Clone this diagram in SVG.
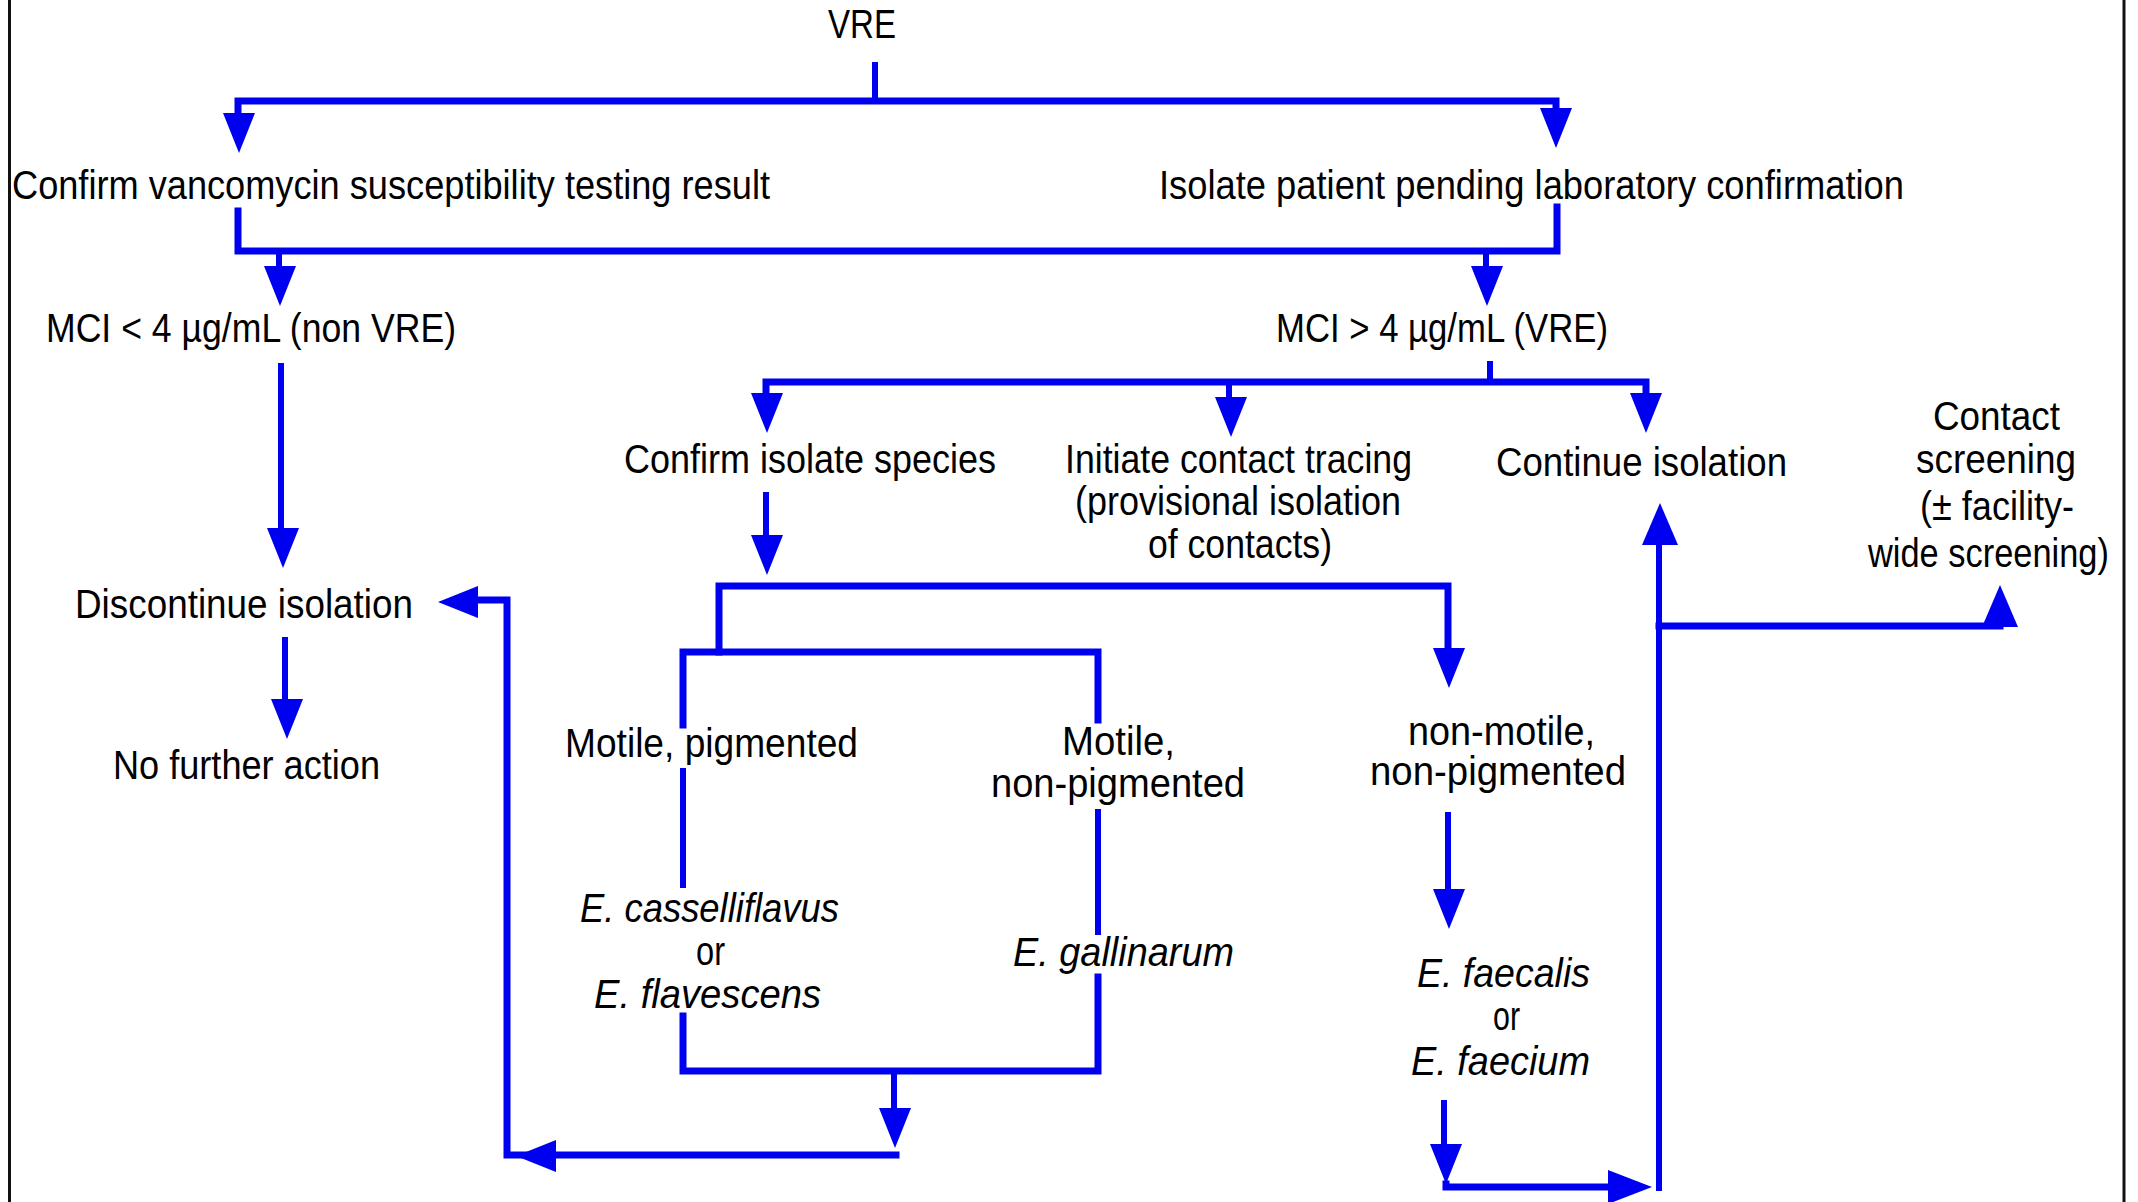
<svg xmlns="http://www.w3.org/2000/svg" xmlns:xlink="http://www.w3.org/1999/xlink" width="2138" height="1202" viewBox="0 0 2138 1202">
<style>
  text { font-family: "Liberation Sans", Arial, sans-serif; font-size: 40px; fill: #000; }
  .it { font-style: italic; }
  .ln { stroke: #0000f0; stroke-width: 7; fill: none; stroke-linecap: square; }
  .vl { stroke: #0000f0; stroke-width: 6; fill: none; stroke-linecap: butt; }
  .ah { fill: #0000f0; }
  .bd { stroke: #111; stroke-width: 3; }
</style>
<defs>
  <path id="ad" d="M-16,0 L16,0 L0,40 Z"/>
  <path id="au" d="M-18,0 L18,0 L0,-42 Z"/>
  <path id="al" d="M0,-16 L0,16 L-40,0 Z"/>
  <path id="ar" d="M0,-17 L0,17 L44,0 Z"/>
</defs>
<rect width="2138" height="1202" fill="#fff"/>
<line class="bd" x1="9.5" y1="0" x2="9.5" y2="1202"/>
<line class="bd" x1="2124" y1="0" x2="2124" y2="1202"/>

<g id="connectors">
  <line class="vl" x1="875" y1="62" x2="875" y2="101"/>
  <polyline class="ln" points="238,115 238,101 1556,101 1556,110"/>
  <use xlink:href="#ad" class="ah" x="239" y="113"/>
  <use xlink:href="#ad" class="ah" x="1556" y="108"/>

  <polyline class="ln" points="238,211 238,251 1557,251 1557,207"/>
  <line class="vl" x1="279" y1="251" x2="279" y2="268"/>
  <use xlink:href="#ad" class="ah" x="280" y="266"/>
  <line class="vl" x1="1486" y1="251" x2="1486" y2="268"/>
  <use xlink:href="#ad" class="ah" x="1487" y="266"/>

  <line class="vl" x1="281" y1="363" x2="281" y2="530"/>
  <use xlink:href="#ad" class="ah" x="283" y="528"/>
  <line class="vl" x1="285" y1="637" x2="285" y2="701"/>
  <use xlink:href="#ad" class="ah" x="287" y="699"/>

  <line class="vl" x1="1490" y1="361" x2="1490" y2="382"/>
  <polyline class="ln" points="766,395 766,382 1646,382 1646,395"/>
  <line class="vl" x1="1229" y1="382" x2="1229" y2="399"/>
  <use xlink:href="#ad" class="ah" x="767" y="393"/>
  <use xlink:href="#ad" class="ah" x="1231" y="397"/>
  <use xlink:href="#ad" class="ah" x="1646" y="393"/>

  <line class="vl" x1="766" y1="492" x2="766" y2="537"/>
  <use xlink:href="#ad" class="ah" x="767" y="535"/>

  <polyline class="ln" points="719,652 719,586 1448,586 1448,650"/>
  <use xlink:href="#ad" class="ah" x="1449" y="648"/>
  <polyline class="ln" points="683,725 683,652 1098,652 1098,720"/>
  <line class="vl" x1="683" y1="768" x2="683" y2="888"/>
  <line class="vl" x1="1098" y1="809" x2="1098" y2="935"/>
  <polyline class="ln" points="683,1016 683,1071 1098,1071 1098,977"/>
  <line class="vl" x1="894" y1="1071" x2="894" y2="1110"/>
  <use xlink:href="#ad" class="ah" x="895" y="1108"/>

  <polyline class="ln" points="896,1155 507,1155 507,600 478,600"/>
  <use xlink:href="#al" class="ah" x="556" y="1156"/>
  <use xlink:href="#al" class="ah" x="478" y="602"/>

  <line class="vl" x1="1448" y1="812" x2="1448" y2="891"/>
  <use xlink:href="#ad" class="ah" x="1449" y="889"/>
  <line class="vl" x1="1444" y1="1100" x2="1444" y2="1146"/>
  <use xlink:href="#ad" class="ah" x="1446" y="1144"/>
  <polyline class="ln" points="1446,1184 1446,1187 1610,1187"/>
  <use xlink:href="#ar" class="ah" x="1608" y="1187"/>

  <line class="vl" x1="1659" y1="1191" x2="1659" y2="543"/>
  <use xlink:href="#au" class="ah" x="1660" y="545"/>
  <polyline class="ln" points="1659,626 2000,626 2000,625"/>
  <use xlink:href="#au" class="ah" x="2000" y="627"/>
</g>

<g id="n-vre"><text x="828" y="38" textLength="68" lengthAdjust="spacingAndGlyphs">VRE</text></g>
<g id="n-confirm-vanco"><text x="12" y="199" textLength="758" lengthAdjust="spacingAndGlyphs">Confirm vancomycin susceptibility testing result</text></g>
<g id="n-isolate-patient"><text x="1159" y="199" textLength="745" lengthAdjust="spacingAndGlyphs">Isolate patient pending laboratory confirmation</text></g>
<g id="n-mci-low"><text x="46" y="342" textLength="410" lengthAdjust="spacingAndGlyphs">MCI &lt; 4 µg/mL (non VRE)</text></g>
<g id="n-mci-high"><text x="1276" y="342" textLength="332" lengthAdjust="spacingAndGlyphs">MCI &gt; 4 µg/mL (VRE)</text></g>
<g id="n-discontinue"><text x="75" y="618" textLength="338" lengthAdjust="spacingAndGlyphs">Discontinue isolation</text></g>
<g id="n-no-further"><text x="113" y="779" textLength="267" lengthAdjust="spacingAndGlyphs">No further action</text></g>
<g id="n-confirm-species"><text x="624" y="473" textLength="372" lengthAdjust="spacingAndGlyphs">Confirm isolate species</text></g>
<g id="n-contact-tracing">
  <text x="1065" y="473" textLength="347" lengthAdjust="spacingAndGlyphs">Initiate contact tracing</text>
  <text x="1075" y="515" textLength="326" lengthAdjust="spacingAndGlyphs">(provisional isolation</text>
  <text x="1148" y="558" textLength="184" lengthAdjust="spacingAndGlyphs">of contacts)</text>
</g>
<g id="n-continue"><text x="1496" y="476" textLength="291" lengthAdjust="spacingAndGlyphs">Continue isolation</text></g>
<g id="n-screening">
  <text x="1933" y="430" textLength="127" lengthAdjust="spacingAndGlyphs">Contact</text>
  <text x="1916" y="473" textLength="160" lengthAdjust="spacingAndGlyphs">screening</text>
  <text x="1920" y="520" textLength="154" lengthAdjust="spacingAndGlyphs">(± facility-</text>
  <text transform="translate(1868,567) scale(0.86,1)" x="0" y="0">wide screening)</text>
</g>
<g id="n-motile-pig"><text x="565" y="757" textLength="293" lengthAdjust="spacingAndGlyphs">Motile, pigmented</text></g>
<g id="n-motile-nonpig">
  <text x="1062" y="755" textLength="113" lengthAdjust="spacingAndGlyphs">Motile,</text>
  <text x="991" y="797" textLength="254" lengthAdjust="spacingAndGlyphs">non-pigmented</text>
</g>
<g id="n-nonmotile">
  <text x="1408" y="745" textLength="187" lengthAdjust="spacingAndGlyphs">non-motile,</text>
  <text x="1370" y="785" textLength="256" lengthAdjust="spacingAndGlyphs">non-pigmented</text>
</g>
<g id="n-cassel">
  <text class="it" x="580" y="922" textLength="259" lengthAdjust="spacingAndGlyphs">E. casselliflavus</text>
  <text x="696" y="965" textLength="29" lengthAdjust="spacingAndGlyphs">or</text>
  <text class="it" x="594" y="1008" textLength="227" lengthAdjust="spacingAndGlyphs">E. flavescens</text>
</g>
<g id="n-gallinarum"><text class="it" x="1013" y="966" textLength="221" lengthAdjust="spacingAndGlyphs">E. gallinarum</text></g>
<g id="n-faecalis">
  <text class="it" x="1417" y="987" textLength="173" lengthAdjust="spacingAndGlyphs">E. faecalis</text>
  <text x="1493" y="1030" textLength="27" lengthAdjust="spacingAndGlyphs">or</text>
  <text class="it" x="1411" y="1075" textLength="179" lengthAdjust="spacingAndGlyphs">E. faecium</text>
</g>
</svg>
